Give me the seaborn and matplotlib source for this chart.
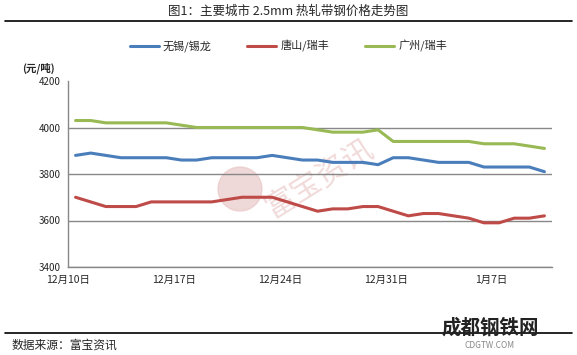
import matplotlib
matplotlib.use('Agg')
import matplotlib.pyplot as plt
from matplotlib.patches import Ellipse
import seaborn as sns
import pandas as pd

# Daily prices, 2012-12-10 .. 2013-01-10 (yuan / ton)
start_date = '2012-12-10'
n_days = 32
wuxi = [3880, 3890, 3880, 3870, 3870, 3870, 3870, 3860, 3860, 3870, 3870, 3870,
        3870, 3880, 3870, 3860, 3860, 3850, 3850, 3850, 3840, 3870, 3870, 3860,
        3850, 3850, 3850, 3830, 3830, 3830, 3830, 3810]
tangshan = [3700, 3680, 3660, 3660, 3660, 3680, 3680, 3680, 3680, 3680, 3690, 3700,
            3700, 3700, 3680, 3660, 3640, 3650, 3650, 3660, 3660, 3640, 3620, 3630,
            3630, 3620, 3610, 3590, 3590, 3610, 3610, 3620]
guangzhou = [4030, 4030, 4020, 4020, 4020, 4020, 4020, 4010, 4000, 4000, 4000, 4000,
             4000, 4000, 4000, 4000, 3990, 3980, 3980, 3980, 3990, 3940, 3940, 3940,
             3940, 3940, 3940, 3930, 3930, 3930, 3920, 3910]
series_names = ['无锡/锡龙', '唐山/瑞丰', '广州/瑞丰']
colors = ['#4A7EBB', '#BE4B48', '#98B954']
tick_dates = ['2012-12-10', '2012-12-17', '2012-12-24', '2012-12-31', '2013-01-07']
y_ticks = [3400, 3600, 3800, 4000, 4200]

sns.set_style('white')
plt.rcParams['font.family'] = ['Noto Sans CJK SC', 'DejaVu Sans']

days = pd.date_range(start_date, periods=n_days)
frames = []
for name, vals in zip(series_names, [wuxi, tangshan, guangzhou]):
    # Excel date axis puts points in the middle of each day
    frames.append(pd.DataFrame({'date': days + pd.Timedelta(hours=12),
                                'price': vals, 'city': name}))
df = pd.concat(frames, ignore_index=True)

fig = plt.figure(figsize=(5.77, 3.55), dpi=100)
ax_w, ax_h = 484, 186
ax = fig.add_axes([68 / 577, 1 - 267 / 355, ax_w / 577, ax_h / 355])

sns.lineplot(data=df, x='date', y='price', hue='city', palette=colors,
             hue_order=series_names, linewidth=2.2, ax=ax, legend=False)

ax.set_xlim(days[0], days[-1] + pd.Timedelta(days=1))
ax.set_ylim(3400, 4200)
ax.set_yticks(y_ticks)
ax.set_yticklabels([str(v) for v in y_ticks], fontsize=7)
ticks = pd.to_datetime(tick_dates)
ax.set_xticks(ticks)
ax.set_xticklabels([f'{d.month}月{d.day}日' for d in ticks], fontsize=7.5)
ax.tick_params(axis='x', direction='in', length=4, color='#888888', pad=6)
ax.tick_params(axis='y', direction='out', length=3, color='#888888', pad=2)
ax.set_xlabel('')
ax.set_ylabel('')

for side in ['top', 'right']:
    ax.spines[side].set_visible(False)
for side in ['left', 'bottom']:
    ax.spines[side].set_color('#888888')
    ax.spines[side].set_linewidth(1)
ax.grid(axis='y', color='#888888', linewidth=1)
ax.get_ygridlines()[-1].set_visible(False)

# watermark
ax.add_patch(Ellipse((172 / ax_w, 78 / ax_h), 44 / ax_w, 44 / ax_h, transform=ax.transAxes,
                     color='#E9C8C8', alpha=0.7, zorder=0))
ax.text(0.52, 0.48, '富宝资讯', transform=ax.transAxes, fontsize=22, color='#EBCACA',
        rotation=32, ha='center', va='center', alpha=0.7, zorder=0)

# legend
handles = [plt.Line2D([], [], color=c, linewidth=2.2) for c in colors]
fig.legend(handles, series_names, loc='center', bbox_to_anchor=(0.5, 1 - 46 / 355),
           ncol=3, frameon=False, fontsize=8, handlelength=2.6, columnspacing=3.2,
           handletextpad=0.4)

fig.text(0.5, 1 - 11 / 355, '图1：主要城市 2.5mm 热轧带钢价格走势图', ha='center',
         va='center', fontsize=9)
fig.add_artist(plt.Line2D([5 / 577, 572 / 577], [1 - 21 / 355] * 2, color='black',
                          linewidth=1.2))
fig.text(22 / 577, 1 - 68 / 355, '(元/吨)', ha='left', va='center', fontsize=7.5,
         fontweight='bold')

fig.add_artist(plt.Line2D([5 / 577, 572 / 577], [1 - 333 / 355] * 2, color='black',
                          linewidth=1.2))
fig.text(12 / 577, 1 - 345 / 355, '数据来源：富宝资讯', ha='left', va='center', fontsize=8.5)
fig.text(490 / 577, 1 - 328 / 355, '成都钢铁网', ha='center', va='center', fontsize=14,
         fontweight='bold', color='#222222')
fig.text(490 / 577, 1 - 345 / 355, 'CDGTW.COM', ha='center', va='center', fontsize=6,
         color='#888888')

plt.savefig('out.png', dpi=100)
